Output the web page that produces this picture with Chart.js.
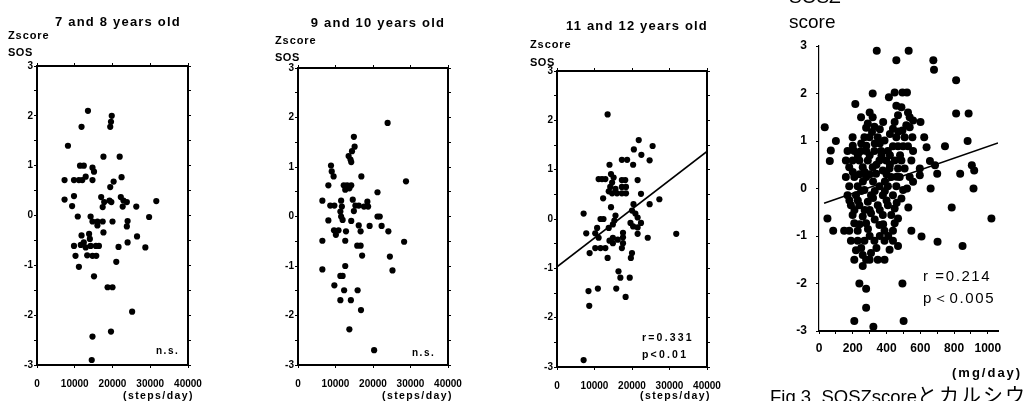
<!DOCTYPE html>
<html>
<head>
<meta charset="utf-8">
<script src="https://cdn.jsdelivr.net/npm/chart.js@4.4.1/dist/chart.umd.min.js"></script>
<style>
  html, body { margin: 0; padding: 0; background: #fff; width: 1026px; height: 401px; overflow: hidden; }
  canvas { position: absolute; left: 0; top: 0; }
  .t { position: absolute; white-space: nowrap; color: #000; line-height: 1;
       font-family: "Liberation Sans", Arial, sans-serif; font-weight: bold; }
  .c { width: 200px; text-align: center; }
</style>
</head>
<body>
<canvas id="c1" width="1026" height="401"></canvas>
<canvas id="c2" width="1026" height="401"></canvas>
<canvas id="c3" width="1026" height="401"></canvas>
<canvas id="c4" width="1026" height="401"></canvas>

<div class="t c" style="left:18px;top:15px;font-size:13px;letter-spacing:1.2px;">7 and 8 years old</div>
<div class="t c" style="left:278px;top:16px;font-size:13px;letter-spacing:1.2px;">9 and 10 years old</div>
<div class="t c" style="left:537px;top:19px;font-size:13px;letter-spacing:1.2px;">11 and 12 years old</div>

<div class="t" style="left:8px;top:30px;font-size:11px;letter-spacing:0.9px;">Zscore</div>
<div class="t" style="left:8px;top:47px;font-size:11px;letter-spacing:0.5px;">SOS</div>
<div class="t" style="left:275px;top:35px;font-size:11px;letter-spacing:0.9px;">Zscore</div>
<div class="t" style="left:275px;top:52px;font-size:11px;letter-spacing:0.5px;">SOS</div>
<div class="t" style="left:530px;top:39px;font-size:11px;letter-spacing:0.9px;">Zscore</div>
<div class="t" style="left:530px;top:57px;font-size:11px;letter-spacing:0.5px;">SOS</div>

<div class="t" style="left:156px;top:346px;font-size:10px;letter-spacing:1.5px;">n.s.</div>
<div class="t" style="left:412px;top:348px;font-size:10px;letter-spacing:1.5px;">n.s.</div>
<div class="t" style="left:642px;top:332px;font-size:10.5px;letter-spacing:2.2px;">r=0.331</div>
<div class="t" style="left:642px;top:349px;font-size:10.5px;letter-spacing:2.2px;">p&lt;0.01</div>

<div class="t" style="left:123px;top:390px;font-size:10.5px;letter-spacing:1.4px;">(steps/day)</div>
<div class="t" style="left:382px;top:390px;font-size:10.5px;letter-spacing:1.4px;">(steps/day)</div>
<div class="t" style="left:640px;top:390px;font-size:10.5px;letter-spacing:1.4px;">(steps/day)</div>

<div class="t" style="left:789px;top:-13px;font-size:19px;font-weight:normal;">SOSZ</div>
<div class="t" style="left:789px;top:12px;font-size:19px;font-weight:normal;">score</div>
<div class="t" style="left:923px;top:268px;font-size:15px;font-weight:normal;letter-spacing:1.6px;">r =0.214</div>
<div class="t" style="left:923px;top:290px;font-size:15px;font-weight:normal;letter-spacing:1.6px;">p＜0.005</div>
<div class="t" style="left:952px;top:366px;font-size:13px;letter-spacing:2px;">(mg/day)</div>
<div class="t" style="left:770px;top:386px;font-size:18.5px;font-weight:normal;font-family:'Liberation Sans','Noto Sans CJK JP',sans-serif;">Fig.3&nbsp;&nbsp;SOSZscore<span style="font-size:20px;letter-spacing:2px;">とカルシウ</span></div>

<script>
// tick labels
const zTicks = [-3, -2, -1, 0, 1, 2, 3];
const stepsTicks = [0, 10000, 20000, 30000, 40000];
const mgTicks = [0, 200, 400, 600, 800, 1000];

// [steps/day, SOS Z-score]
const age7to8 = [
  [13500,2.1],[19800,2.0],[19600,1.88],[19400,1.78],[11800,1.78],[8200,1.4],[17600,1.18],[21900,1.18],
  [11400,1.0],[12400,1.0],[14700,0.96],[15100,0.88],[7300,0.71],[9800,0.71],[11100,0.71],[12000,0.71],
  [12900,0.78],[14700,0.71],[22400,0.77],[20300,0.68],[19400,0.57],[7300,0.32],[9800,0.39],[9300,0.19],
  [17000,0.37],[17800,0.27],[17400,0.17],[19200,0.3],[19700,0.27],[22200,0.37],[22900,0.3],[22700,0.18],
  [23800,0.27],[26300,0.18],[31600,0.29],[10800,-0.02],[14200,-0.02],[14700,-0.12],[16000,-0.12],[16000,-0.2],
  [17400,-0.12],[20000,-0.12],[24000,-0.11],[23800,-0.22],[29700,-0.03],[17600,-0.34],[11800,-0.4],[13800,-0.37],
  [14000,-0.47],[26500,-0.42],[24000,-0.54],[9800,-0.61],[11600,-0.59],[12400,-0.54],[12900,-0.64],[14200,-0.61],
  [15600,-0.61],[16400,-0.61],[21600,-0.63],[28700,-0.64],[10200,-0.81],[13300,-0.8],[14700,-0.81],[15700,-0.81],
  [11100,-1.03],[21000,-0.93],[15100,-1.22],[18700,-1.44],[20000,-1.44],[25200,-1.93],[19600,-2.33],[14700,-2.43],
  [14500,-2.9]
];

const age9to10 = [
  [23900,1.89],[14900,1.61],[15100,1.41],[14400,1.32],[13500,1.22],[14000,1.15],[14200,1.1],[8800,1.03],
  [9000,0.91],[9500,0.81],[16900,0.81],[8100,0.63],[12200,0.63],[13100,0.63],[14200,0.63],[12600,0.54],
  [13700,0.57],[28800,0.71],[21200,0.49],[6500,0.32],[8600,0.22],[9700,0.22],[11500,0.32],[11700,0.2],
  [11300,0.1],[11500,0],[11900,-0.07],[14600,0.34],[15300,0.22],[16200,0.22],[17600,0.2],[18500,0.3],
  [18700,0.2],[14900,0.11],[8100,-0.08],[14200,-0.09],[21200,0],[21800,0],[9600,-0.28],[10100,-0.37],
  [10800,-0.28],[12800,-0.3],[16200,-0.18],[16700,-0.3],[19100,-0.19],[22300,-0.19],[24100,-0.3],[6500,-0.49],
  [12600,-0.49],[28300,-0.51],[15800,-0.59],[16700,-0.59],[17100,-0.79],[24500,-0.81],[25200,-1.09],[6500,-1.07],
  [12600,-1.0],[11300,-1.2],[11900,-1.2],[9700,-1.39],[12300,-1.49],[15900,-1.49],[11300,-1.69],[14100,-1.69],
  [16800,-1.89],[13700,-2.28],[20300,-2.7]
];

const age11to12 = [
  [13500,2.12],[21800,1.6],[25500,1.48],[20500,1.41],[22500,1.3],[24700,1.19],[14000,1.1],[17300,1.2],
  [18700,1.2],[20300,1.1],[11100,0.81],[12000,0.81],[12900,0.81],[14400,0.91],[15100,0.84],[14700,0.74],
  [14200,0.65],[15600,0.61],[13800,0.56],[14700,0.52],[16000,0.52],[17300,0.79],[18200,0.79],[17300,0.65],
  [18400,0.65],[17300,0.52],[18400,0.52],[21500,0.79],[22400,0.51],[12300,0.42],[27300,0.4],[24700,0.3],
  [20400,0.3],[14400,0.24],[7100,0.11],[20000,0.17],[20900,0.11],[21500,0.03],[22400,-0.08],[21500,-0.17],
  [21500,-0.3],[19600,-0.08],[20300,-0.15],[11600,0],[12400,0],[15600,0.07],[15300,-0.03],[14900,-0.11],
  [13800,-0.18],[7800,-0.29],[10700,-0.18],[10200,-0.29],[11100,-0.38],[17600,-0.28],[14900,-0.38],[14000,-0.44],
  [14900,-0.49],[17600,-0.37],[16200,-0.42],[17600,-0.49],[24200,-0.38],[31800,-0.3],[10200,-0.59],[11600,-0.59],
  [12900,-0.59],[17300,-0.59],[8700,-0.69],[20000,-0.69],[19700,-0.79],[13500,-0.79],[16400,-1.06],[16900,-1.19],
  [19400,-1.19],[10900,-1.41],[8400,-1.46],[15800,-1.41],[18300,-1.58],[8600,-1.76],[7100,-2.86]
];
const fit11to12 = [[0,-0.97],[40000,1.37]];

// [calcium mg/day, SOS Z-score]
const calcium = [
  [342,2.9],[458,2.7],[531,2.9],[677,2.7],[681,2.5],[812,2.28],[318,2.0],[215,1.78],[414,1.92],[448,2.02],
  [494,2.02],[521,2.02],[812,1.58],[886,1.58],[34,1.29],[70,0.8],[64,0.58],[100,1.0],[746,0.89],[880,1.0],
  [905,0.49],[919,0.38],[836,0.31],[915,0],[661,0],[786,-0.4],[1021,-0.63],[50,-0.63],[84,-0.89],[547,-0.89],
  [607,-1.01],[702,-1.12],[850,-1.21],[239,-2.0],[279,-2.11],[494,-2.0],[279,-2.51],[209,-2.79],[322,-2.91],[501,-2.79],
  [601,1.4],[623,1.08],[637,0.87],[553,1.08],[537,1.29],[557,1.43],[657,0.58],[687,0.49],[700,0.31],[597,0.28],
  [529,-0.4],[521,0],
  [458,1.74],[488,1.71],[527,1.6],[537,1.5],[468,1.54],[249,1.5],[318,1.5],[289,1.37],[279,1.28],[328,1.3],
  [314,1.19],[448,1.4],[438,1.26],[494,1.22],[517,1.33],[199,1.08],[269,1.08],[299,1.08],[348,1.08],[388,1.01],
  [438,0.89],[468,0.89],[498,0.89],[527,0.89],[458,1.08],[507,1.08],[169,0.79],[209,0.79],[249,0.79],[279,0.79],
  [328,0.79],[368,0.79],[408,0.79],[557,0.79],[159,0.59],[199,0.59],[239,0.59],[289,0.59],[358,0.59],[398,0.59],
  [448,0.59],[488,0.59],[547,0.59],[179,0.45],[259,0.45],[318,0.45],[378,0.38],[418,0.42],[468,0.42],[507,0.42],
  [597,0.42],[159,0.24],[209,0.24],[279,0.24],[338,0.31],[428,0.24],[478,0.24],[537,0.24],[557,0.14],[179,0.05],
  [229,0.05],[269,-0.03],[358,0.05],[408,0.05],[458,0.05],[498,-0.03],[169,-0.14],[219,-0.14],[308,-0.14],[378,-0.14],
  [438,-0.14],[488,-0.21],[189,-0.35],[239,-0.35],[289,-0.28],[348,-0.35],[408,-0.35],[448,-0.42],[199,-0.56],[259,-0.59],
  [308,-0.52],[378,-0.56],[428,-0.56],[468,-0.63],[209,-0.73],[279,-0.73],[358,-0.77],[448,-0.73],[149,-0.89],[179,-0.89],
  [229,-0.89],[388,-0.89],[438,-0.89],[189,-1.1],[229,-1.1],[269,-1.1],[328,-1.1],[388,-1.1],[438,-1.1],[468,-1.21],
  [418,-1.29],[219,-1.3],[259,-1.4],[308,-1.36],[209,-1.5],[279,-1.5],[348,-1.5],[388,-1.5],[259,-1.63],
  [230,0.7],[300,0.7],[370,0.7],[420,0.7],[260,0.15],[320,0.15],[390,0.15],[300,-0.45],[360,-0.45],[230,-0.25],
  [400,-0.25],[330,0.95],[250,0.95],[290,-0.85],[330,-0.65],[300,1.6],[470,1.2],[360,1.25],
  [200,0.35],[270,0.35],[340,0.5],[420,0.5],[250,-0.05],[330,-0.05],[390,-0.05],[210,-0.45],[270,-0.45],[320,-0.2],
  [380,-0.75],[240,-0.75],[300,-1.0],[360,-1.0],[410,-1.0],[250,-1.25],[340,-1.25],[280,0.9],[360,0.95],[420,1.15],
  [200,0.9],[180,-0.25],[300,0.3],[460,0.25],[460,-0.3],[480,0.7],[380,1.4],[300,-1.5],[240,0.3],[400,0.3]
];
const fitCalcium = [[30,-0.31],[1060,0.96]];

const FONT = '"Liberation Sans", Arial, sans-serif';
const W = 1026, H = 401;
const toXY = arr => arr.map(p => ({ x: p[0], y: p[1] }));

function edgeAxis(pos, min, max, step, size, border) {
  return {
    type: 'linear', position: pos, min, max,
    border: { color: '#000', width: border },
    grid: { display: true, drawOnChartArea: false, color: '#000', tickLength: 3 },
    ticks: { display: false, stepSize: step, includeBounds: false },
    afterFit: s => {
      if (s.isHorizontal()) s.height = size; else s.width = size;
      s.paddingLeft = s.paddingRight = s.paddingTop = s.paddingBottom = 0;
    }
  };
}

function mainAxis(pos, min, max, step, labels, size, pad, fontSize, border) {
  const ax = edgeAxis(pos, min, max, step, size, border);
  ax.ticks = {
    display: true, stepSize: step, includeBounds: false, autoSkip: false, maxRotation: 0, minRotation: 0,
    padding: pad, color: '#000',
    font: { family: FONT, size: fontSize, weight: 'bold' },
    callback: v => labels.includes(v) ? String(v) : ''
  };
  return ax;
}

function makePanel(id, plot, points, fit, xa, ya, framed, radius) {
  const edge = framed ? 4 : 0;
  const scales = {
    x: mainAxis('bottom', xa.min, xa.max, xa.step, xa.labels, xa.size, xa.pad, xa.font, 2),
    y: mainAxis('left', -3, 3, ya.step, zTicks, ya.size, ya.pad, ya.font, ya.border)
  };
  if (framed) {
    scales.xt = edgeAxis('top', xa.min, xa.max, xa.step, edge, 2);
    scales.yr = edgeAxis('right', -3, 3, ya.step, edge, 2);
  }
  const datasets = [{
    data: toXY(points),
    pointRadius: radius,
    pointBackgroundColor: '#000',
    pointBorderWidth: 0
  }];
  if (fit) {
    datasets.push({
      data: toXY(fit),
      showLine: true,
      borderColor: '#000',
      borderWidth: 1.6,
      pointRadius: 0
    });
  }
  new Chart(document.getElementById(id), {
    type: 'scatter',
    data: { datasets },
    options: {
      responsive: false,
      animation: false,
      events: [],
      layout: {
        padding: {
          left: plot.l - ya.size,
          right: W - plot.r - edge,
          top: plot.t - edge,
          bottom: H - plot.b - xa.size
        }
      },
      scales,
      plugins: { legend: { display: false }, tooltip: { enabled: false } }
    }
  });
}

const stepsAxis = { min: 0, max: 40000, step: 10000, labels: stepsTicks, size: 30, pad: 10, font: 10 };
const zAxis = { step: 0.5, size: 30, pad: 1, font: 10, border: 2 };

makePanel('c1', { l: 37, r: 188, t: 66, b: 365 }, age7to8, null, stepsAxis, zAxis, true, 3.1);
makePanel('c2', { l: 298, r: 448, t: 68, b: 365 }, age9to10, null, stepsAxis, zAxis, true, 3.1);
makePanel('c3', { l: 557, r: 707, t: 71, b: 367 }, age11to12, fit11to12, stepsAxis, zAxis, true, 3.1);
makePanel('c4', { l: 819, r: 998, t: 46, b: 331 }, calcium, fitCalcium,
  { min: 0, max: 1060, step: 100, labels: mgTicks, size: 30, pad: 7, font: 12 },
  { step: 1, size: 30, pad: 9, font: 12, border: 1.2 }, false, 4);
</script>
</body>
</html>
